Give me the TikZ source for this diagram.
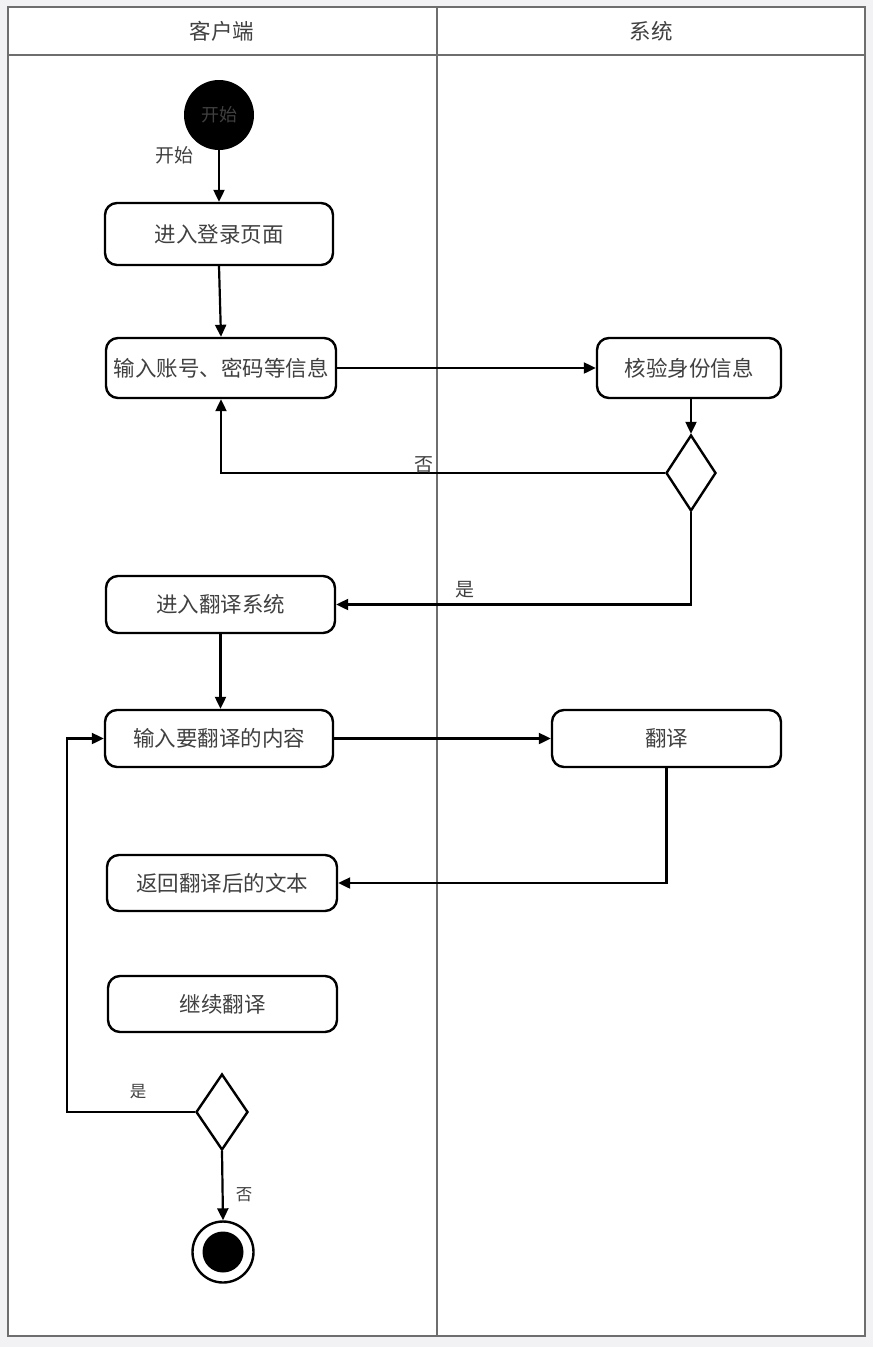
\documentclass[tikz,border=0pt]{standalone}
\usepackage{fontspec}
\newfontfamily\cjk{Noto Sans CJK SC}
\usetikzlibrary{arrows.meta,shapes.geometric}
\definecolor{bgray}{HTML}{F2F2F4}
\definecolor{txt}{HTML}{404040}
\definecolor{frame}{HTML}{6E6E6E}
\begin{document}
\begin{tikzpicture}[x=1pt,y=-1pt,
  every node/.style={font=\cjk\fontsize{21.5}{25}\selectfont, text=txt},
  act/.style={draw=black, line width=2.4pt, rounded corners=12pt, fill=white, inner sep=0pt},
  dec/.style={draw=black, line width=2.4pt, diamond, fill=white, inner sep=0pt, minimum width=50pt, minimum height=76pt},
  lnk/.style={line width=2.2pt, draw=black, -{Triangle[length=12pt,width=11pt]}},
  lbl/.style={font=\cjk\fontsize{19}{21}\selectfont, text=txt},
  slbl/.style={font=\cjk\fontsize{16.5}{18}\selectfont, text=txt}
]
\useasboundingbox (0,0) rectangle (873,1347);
\fill[bgray] (0,0) rectangle (873,1347);
% swimlane frame
\draw[frame, line width=1.6pt, fill=white] (8,7) rectangle (865,1336);
\draw[frame, line width=1.6pt] (8,55) -- (865,55);
\draw[frame, line width=1.6pt] (437,7) -- (437,1336);
\node (h1) at (222,31) {客户端};
\node (h2) at (651,31) {系统};

% start
\node[circle, fill=black, minimum size=70pt, inner sep=0pt, text=black!75, font=\cjk\fontsize{18}{20}\selectfont] (start) at (219,115) {开始};
\node[lbl] (startl) at (174,155) {开始};

% activities
\node[act, minimum width=228pt, minimum height=62pt] (a1) at (219,234) {进入登录页面};
\node[act, minimum width=230pt, minimum height=60pt] (a2) at (221,368) {输入账号、密码等信息};
\node[act, minimum width=184pt, minimum height=60pt] (a3) at (689,368) {核验身份信息};
\node[dec] (d1) at (691,473) {};
\node[act, minimum width=229pt, minimum height=57pt] (a4) at (220.5,604.5) {进入翻译系统};
\node[act, minimum width=228pt, minimum height=57pt] (a5) at (219,738.5) {输入要翻译的内容};
\node[act, minimum width=229pt, minimum height=57pt] (a6) at (666.5,738.5) {翻译};
\node[act, minimum width=230pt, minimum height=56pt] (a7) at (222,883) {返回翻译后的文本};
\node[act, minimum width=229pt, minimum height=56pt] (a8) at (222.5,1004) {继续翻译};
\node[dec, minimum width=52pt] (d2) at (222,1112) {};

% end
\node[circle, draw=black, line width=2.4pt, fill=white, minimum size=61pt, inner sep=0pt] (end) at (223,1252) {};
\node[circle, fill=black, minimum size=41pt, inner sep=0pt] (endin) at (end.center) {};

% connectors
\draw[lnk] (start.south) -- (a1.north);
\draw[lnk] (a1.south) -- (a2.north);
\draw[lnk] (a2.east) -- (a3.west);
\draw[lnk] (a3.south -| d1.north) -- (d1.north);
\draw[lnk] (d1.west) -- (a2.south |- d1.west) -- (a2.south);
\node[lbl] (no1) at (424,465) {否};
\draw[lnk] (d1.south) -- (d1.south |- a4.east) -- (a4.east);
\node[lbl] (yes1) at (465,590) {是};
\draw[lnk] (a4.south) -- (a4.south |- a5.north);
\draw[lnk] (a5.east) -- (a6.west);
\draw[lnk] (a6.south) -- (a6.south |- a7.east) -- (a7.east);
\coordinate (lp) at (67,1112);
\draw[lnk] (d2.west) -- (lp) -- (lp |- a5.west) -- (a5.west);
\node[slbl] (yes2) at (138,1092) {是};
\draw[lnk] (d2.south) -- (end.north);
\node[slbl] (no2) at (244,1195) {否};
\end{tikzpicture}
\end{document}
